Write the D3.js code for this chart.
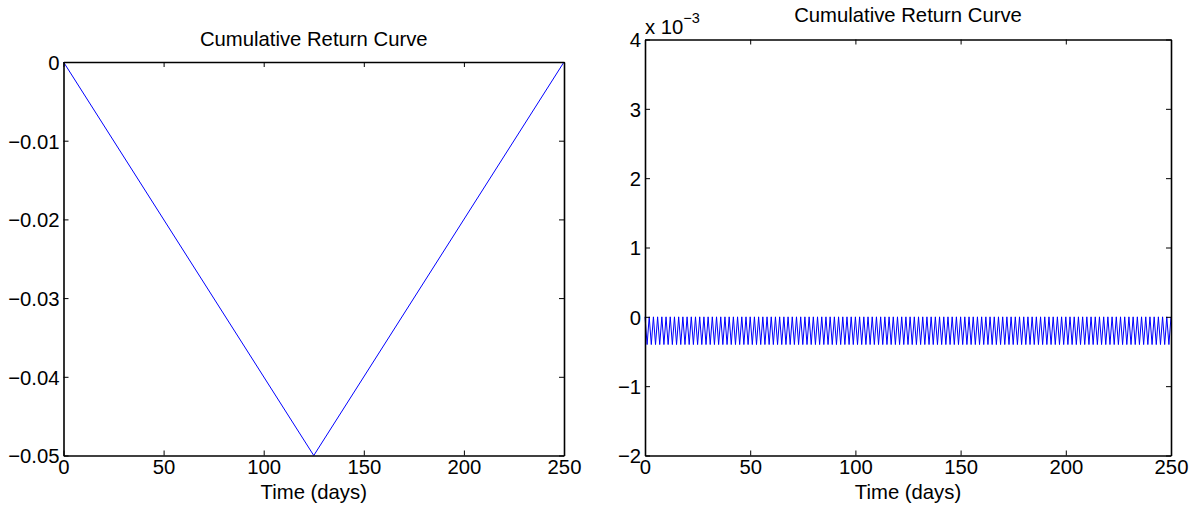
<!DOCTYPE html>
<html>
<head>
<meta charset="utf-8">
<script src="https://cdn.jsdelivr.net/npm/d3@7/dist/d3.min.js"></script>
<style>
  html, body { margin: 0; padding: 0; background: #fff; }
  svg text { font-family: "Liberation Sans", Arial, Helvetica, sans-serif; fill: #000; }
</style>
</head>
<body>
<div id="chart"></div>
<script>
// left panel: cumulative return, one straight drawdown and recovery
const leftDays = [0, 125, 250];
const leftReturns = [0, -0.05, 0];
const leftYTicks = [0, -0.01, -0.02, -0.03, -0.04, -0.05];

// right panel: returns flip between 0 and -0.0004 every day
const rightReturns = [
  0, -0.0004, 0, -0.0004, 0, -0.0004, 0, -0.0004, 0, -0.0004,
  0, -0.0004, 0, -0.0004, 0, -0.0004, 0, -0.0004, 0, -0.0004,
  0, -0.0004, 0, -0.0004, 0, -0.0004, 0, -0.0004, 0, -0.0004,
  0, -0.0004, 0, -0.0004, 0, -0.0004, 0, -0.0004, 0, -0.0004,
  0, -0.0004, 0, -0.0004, 0, -0.0004, 0, -0.0004, 0, -0.0004,
  0, -0.0004, 0, -0.0004, 0, -0.0004, 0, -0.0004, 0, -0.0004,
  0, -0.0004, 0, -0.0004, 0, -0.0004, 0, -0.0004, 0, -0.0004,
  0, -0.0004, 0, -0.0004, 0, -0.0004, 0, -0.0004, 0, -0.0004,
  0, -0.0004, 0, -0.0004, 0, -0.0004, 0, -0.0004, 0, -0.0004,
  0, -0.0004, 0, -0.0004, 0, -0.0004, 0, -0.0004, 0, -0.0004,
  0, -0.0004, 0, -0.0004, 0, -0.0004, 0, -0.0004, 0, -0.0004,
  0, -0.0004, 0, -0.0004, 0, -0.0004, 0, -0.0004, 0, -0.0004,
  0, -0.0004, 0, -0.0004, 0, -0.0004, 0, -0.0004, 0, -0.0004,
  0, -0.0004, 0, -0.0004, 0, -0.0004, 0, -0.0004, 0, -0.0004,
  0, -0.0004, 0, -0.0004, 0, -0.0004, 0, -0.0004, 0, -0.0004,
  0, -0.0004, 0, -0.0004, 0, -0.0004, 0, -0.0004, 0, -0.0004,
  0, -0.0004, 0, -0.0004, 0, -0.0004, 0, -0.0004, 0, -0.0004,
  0, -0.0004, 0, -0.0004, 0, -0.0004, 0, -0.0004, 0, -0.0004,
  0, -0.0004, 0, -0.0004, 0, -0.0004, 0, -0.0004, 0, -0.0004,
  0, -0.0004, 0, -0.0004, 0, -0.0004, 0, -0.0004, 0, -0.0004,
  0, -0.0004, 0, -0.0004, 0, -0.0004, 0, -0.0004, 0, -0.0004,
  0, -0.0004, 0, -0.0004, 0, -0.0004, 0, -0.0004, 0, -0.0004,
  0, -0.0004, 0, -0.0004, 0, -0.0004, 0, -0.0004, 0, -0.0004,
  0, -0.0004, 0, -0.0004, 0, -0.0004, 0, -0.0004, 0, -0.0004,
  0, -0.0004, 0, -0.0004, 0, -0.0004, 0, -0.0004, 0, -0.0004,
  0
];
const rightYTicks = [0.004, 0.003, 0.002, 0.001, 0, -0.001, -0.002];

const xTicks = [0, 50, 100, 150, 200, 250];
const titleText = "Cumulative Return Curve";
const xLabelText = "Time (days)";

const W = 1197, H = 506;
const FS = 20.3;

const svg = d3.select("#chart").append("svg")
  .attr("width", W).attr("height", H)
  .attr("viewBox", `0 0 ${W} ${H}`);

// draws one matlab-style boxed axes
function drawPanel(box, yDomain, yTicks, yFmt, points, titleY) {
  const x = d3.scaleLinear().domain([0, 250]).range([box.x0, box.x1]);
  const y = d3.scaleLinear().domain(yDomain).range([box.y1, box.y0]);
  const g = svg.append("g");

  // data line first so the frame sits on top
  g.append("path").datum(points)
    .attr("fill", "none").attr("stroke", "#0000ff").attr("stroke-width", 1)
    .attr("d", d3.line().x(d => x(d[0])).y(d => y(d[1])));

  const tickLen = 5;
  const fmt = d3.format("");

  // bottom + top axes, ticks pointing inwards
  const bottom = g.append("g").attr("transform", `translate(0,${box.y1})`)
    .call(d3.axisBottom(x).tickValues(xTicks).tickSizeInner(-tickLen).tickSizeOuter(0).tickPadding(8).tickFormat(fmt));
  const top = g.append("g").attr("transform", `translate(0,${box.y0})`)
    .call(d3.axisTop(x).tickValues(xTicks).tickSizeInner(-tickLen).tickSizeOuter(0).tickFormat(""));
  const left = g.append("g").attr("transform", `translate(${box.x0},0)`)
    .call(d3.axisLeft(y).tickValues(yTicks).tickSizeInner(-tickLen).tickSizeOuter(0).tickPadding(4).tickFormat(yFmt));
  const right = g.append("g").attr("transform", `translate(${box.x1},0)`)
    .call(d3.axisRight(y).tickValues(yTicks).tickSizeInner(-tickLen).tickSizeOuter(0).tickFormat(""));

  [bottom, top, left, right].forEach(a => {
    a.select(".domain").attr("stroke", "#000").attr("stroke-width", 1.6);
    a.selectAll(".tick line").attr("stroke", "#000").attr("stroke-width", 1);
    a.selectAll("text").attr("font-size", FS)
      .attr("font-family", "'Liberation Sans', Arial, Helvetica, sans-serif").attr("fill", "#000");
  });
  bottom.selectAll(".tick text").attr("dy", "0.71em").attr("y", 4);
  left.selectAll(".tick text").attr("dy", "0.36em");

  g.append("text")
    .attr("x", (box.x0 + box.x1) / 2).attr("y", titleY)
    .attr("text-anchor", "middle").attr("font-size", FS)
    .text(titleText);

  g.append("text")
    .attr("x", (box.x0 + box.x1) / 2).attr("y", 499)
    .attr("text-anchor", "middle").attr("font-size", FS)
    .text(xLabelText);

  return { x, y, g };
}

const minusFmt = d3.format("");

drawPanel({ x0: 63.5, x1: 564, y0: 62, y1: 455.5 }, [-0.05, 0], leftYTicks,
  d => minusFmt(d),
  leftDays.map((d, i) => [d, leftReturns[i]]), 46);

const rp = drawPanel({ x0: 645, x1: 1171, y0: 39.5, y1: 455.5 }, [-0.002, 0.004], rightYTicks,
  d => minusFmt(Math.round(d * 1000)),
  rightReturns.map((v, i) => [i, v]), 22);

// exponent label for the right axis
const expo = rp.g.append("text").attr("x", 645).attr("y", 34).attr("font-size", FS);
expo.append("tspan").text("x 10");
expo.append("tspan").attr("font-size", 14.5).attr("dy", -11).text("\u22123");
</script>
</body>
</html>
